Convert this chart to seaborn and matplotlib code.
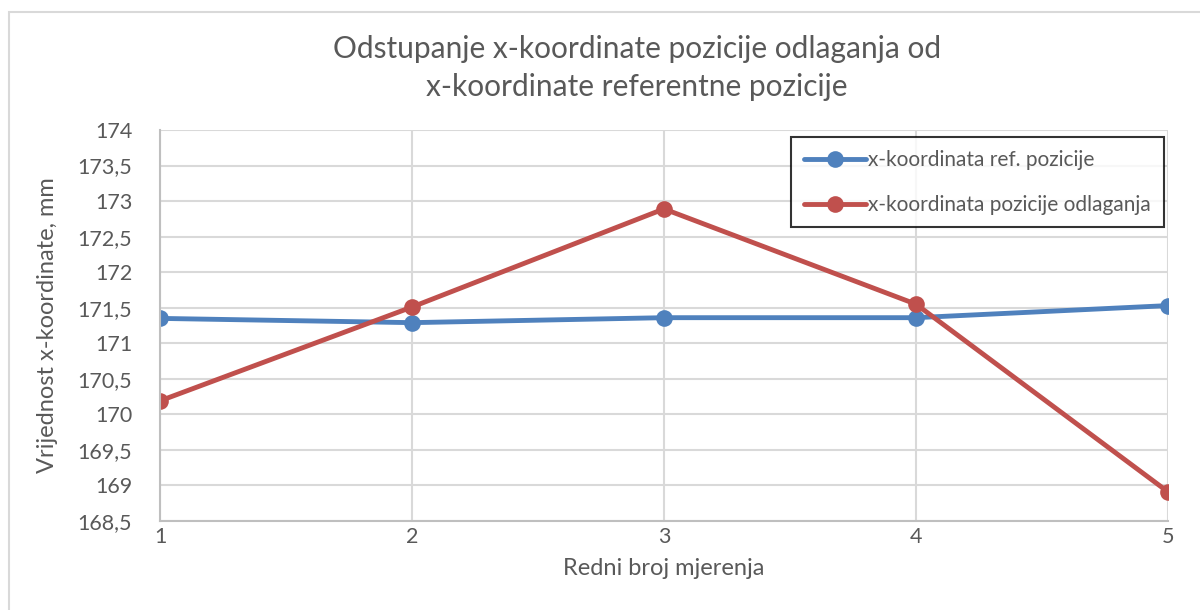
import matplotlib
matplotlib.use("Agg")
import matplotlib.pyplot as plt
from matplotlib.patches import Rectangle
import seaborn as sns
import pandas as pd

mjerenja = [1, 2, 3, 4, 5]
ref_pozicija = [171.35, 171.29, 171.36, 171.36, 171.53]
pozicija_odlaganja = [170.19, 171.51, 172.89, 171.55, 168.91]
serije = ["x-koordinata ref. pozicije", "x-koordinata pozicije odlaganja"]
y_ticks = [168.5, 169, 169.5, 170, 170.5, 171, 171.5, 172, 172.5, 173, 173.5, 174]

df = pd.DataFrame({
    "mjerenje": mjerenja * 2,
    "vrijednost": ref_pozicija + pozicija_odlaganja,
    "serija": [serije[0]] * len(mjerenja) + [serije[1]] * len(mjerenja),
})

sns.set_theme(style="white")
plt.rcParams["font.family"] = ["Lato", "DejaVu Sans"]
text_col = "#595959"

fig = plt.figure(figsize=(12, 6.1), dpi=100)
fig.patches.append(Rectangle((9 / 1200, -0.05), 1.2, 1 - 12 / 610 + 0.05,
                             transform=fig.transFigure, fill=False,
                             edgecolor="#d9d9d9", linewidth=1.5))
ax = fig.add_axes([160 / 1200, 1 - 521 / 610, 1008 / 1200, 391 / 610])

sns.lineplot(data=df, x="mjerenje", y="vrijednost", hue="serija",
             palette=["#4f81bd", "#c0504d"], marker="o", markersize=12,
             markeredgewidth=0, linewidth=3.5, ax=ax, legend=True)

ax.set_xlim(1, 5)
ax.set_ylim(168.5, 174)
ax.set_xticks(mjerenja)
ax.set_xticklabels([str(m) for m in mjerenja])
ax.set_yticks(y_ticks)
ax.set_yticklabels([f"{t:g}".replace(".", ",") for t in y_ticks])
ax.grid(True, color="#d9d9d9", linewidth=1.5)
ax.set_axisbelow(True)
for s in ["top", "right"]:
    ax.spines[s].set_visible(False)
for s in ["left", "bottom"]:
    ax.spines[s].set_color("#bfbfbf")
    ax.spines[s].set_linewidth(1.5)
ax.tick_params(axis="y", labelsize=15.5, colors=text_col, length=0, pad=20)
ax.tick_params(axis="x", labelsize=15.5, colors=text_col, length=0, pad=4)
for lab in ax.get_xticklabels() + ax.get_yticklabels():
    lab.set_color(text_col)

ax.set_xlabel("Redni broj mjerenja", fontsize=17, color=text_col, labelpad=8)
ax.set_ylabel("Vrijednost x-koordinate, mm", fontsize=17, color=text_col, labelpad=14)

fig.text(637 / 1200, 1 - 68 / 610,
         "Odstupanje x-koordinate pozicije odlaganja od\nx-koordinate referentne pozicije",
         ha="center", va="center", fontsize=21.5, color=text_col, linespacing=1.45)

leg = ax.legend(loc="upper right", bbox_to_anchor=(1.003, 1.0), fontsize=15,
                frameon=True, fancybox=False, handlelength=3.0, handletextpad=0.1,
                labelspacing=1.2, borderpad=0.6, borderaxespad=0.35)
leg.get_frame().set_edgecolor("black")
leg.get_frame().set_linewidth(1.5)
for t in leg.get_texts():
    t.set_color(text_col)

fig.savefig("out.png", dpi=100, facecolor="white")
